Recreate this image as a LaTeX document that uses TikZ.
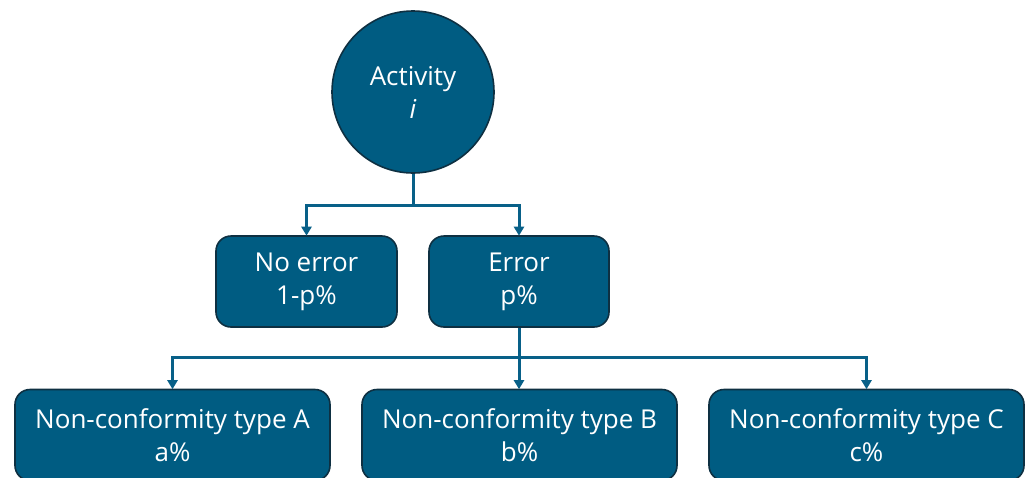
\documentclass[tikz,border=0pt]{standalone}
\usepackage{fontspec}
\setmainfont{Open Sans}
\usetikzlibrary{arrows.meta}
\definecolor{boxfill}{RGB}{0,92,130}
\definecolor{boxline}{RGB}{14,48,66}
\definecolor{connc}{RGB}{8,96,136}
\tikzset{
  base/.style={draw=boxline, line width=1.6pt, fill=boxfill, text=white, align=center,
    font=\fontsize{26}{33}\selectfont, inner sep=0pt},
  rbox/.style={base, rectangle, rounded corners=15pt},
  cbox/.style={base, circle, minimum size=162pt},
  conn/.style={draw=connc, line width=3pt},
  arr/.style={conn, -{Triangle[width=10pt,length=9pt]}, shorten >=-0.5pt}
}
\begin{document}
\begin{tikzpicture}[x=1pt,y=-1pt]
\useasboundingbox (0,0) rectangle (1025,477);
\clip (0,0) rectangle (1025,477);
\node[cbox] (act) at (413,92) {Activity\\\textit{i}};
\node[rbox, minimum width=181pt, minimum height=91pt] (noerr) at (306.5,281.5) {No error\\1-p\%};
\node[rbox, minimum width=180pt, minimum height=91pt] (err) at (519,281.5) {Error\\p\%};
\node[rbox, minimum width=315pt, minimum height=91pt] (ncA) at (172.5,435) {Non-conformity type A\\a\%};
\node[rbox, minimum width=315pt, minimum height=91pt] (ncB) at (519.5,435) {Non-conformity type B\\b\%};
\node[rbox, minimum width=315pt, minimum height=91pt] (ncC) at (866.5,435) {Non-conformity type C\\c\%};
\coordinate (j1) at (413,205);
\coordinate (j2) at (519,357);
\draw[conn] (act.south) -- (j1);
\draw[arr] (j1) -| (noerr.north);
\draw[arr] (j1) -| (err.north);
\draw[conn] (err.south) -- (j2);
\draw[arr] (j2) -| (ncA.north);
\draw[arr] (j2) -- (j2 |- ncB.north);
\draw[arr] (j2) -| (ncC.north);
\end{tikzpicture}
\end{document}
